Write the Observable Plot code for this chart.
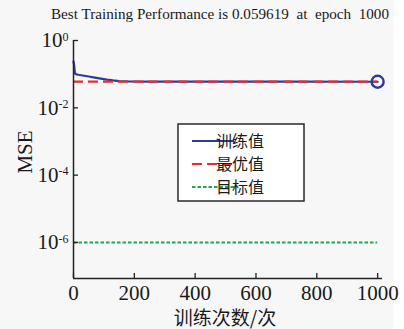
<!DOCTYPE html>
<html><head><meta charset="utf-8">
<script src="https://cdn.jsdelivr.net/npm/d3@7"></script>
<script src="https://cdn.jsdelivr.net/npm/@observablehq/plot@0.6"></script>
<style>
html,body{margin:0;padding:0;background:#fff;}
#chart{position:relative;width:404px;height:329px;background:linear-gradient(to right,#f7f7f7 0,#f7f7f7 394px,#ffffff 394px);}
#chart svg{display:block;}
</style></head><body><div id="chart"></div>
<script>
const titleText = "Best Training Performance is 0.059619  at  epoch  1000";
const epochs   = [0, 2, 4, 6, 10, 16, 30, 50, 70, 90, 110, 130, 150, 180, 250, 440, 700, 1000];
const trainMSE = [0.24, 0.19, 0.12, 0.102, 0.099, 0.096, 0.091, 0.085, 0.079, 0.074, 0.069, 0.065, 0.0625, 0.0612, 0.0604, 0.0599, 0.0597, 0.059619];
const bestMSE = 0.059619;
const bestEpoch = 1000;
const goalMSE = 1e-6;
const xTicks = [0, 200, 400, 600, 800, 1000];
const yTicks = [1, 1e-2, 1e-4, 1e-6];
const seriesNames = ["训练值", "最优值", "目标值"];
const xLabel = "训练次数/次";
const yLabel = "MSE";

const colors = ["#2c3c9c", "#ec2a2e", "#1ea84c"];
const dashes = [null, "10,5", "3.5,2"];
const serifFont = "'Liberation Serif'";
const cjkFont = "'Noto Sans CJK SC'";

const train = epochs.map((e, i) => ({epoch: e, mse: trainMSE[i]}));
const yMin = Math.pow(10, -7.07);

const plot = Plot.plot({
  width: 404, height: 329,
  marginLeft: 73, marginRight: 22, marginTop: 40, marginBottom: 51,
  style: {background: "transparent", color: "#1a1a1a", overflow: "visible"},
  x: {domain: [0, 1016]},
  y: {type: "log", domain: [yMin, 1]},
  marks: [
    Plot.ruleY([goalMSE], {x1: 0, x2: 1000, stroke: colors[2], strokeWidth: 2.2, strokeDasharray: dashes[2]}),
    Plot.line(train, {x: "epoch", y: "mse", stroke: colors[0], strokeWidth: 2.2}),
    Plot.ruleY([bestMSE], {x1: 0, x2: 1000, stroke: colors[1], strokeWidth: 2.2, strokeDasharray: dashes[1]}),
    Plot.dot([{epoch: bestEpoch, mse: bestMSE}], {x: "epoch", y: "mse", r: 6, stroke: colors[0], strokeWidth: 2.4, fill: "none"}),
    Plot.ruleY([yMin], {stroke: "#222", strokeWidth: 1.5}),
    Plot.ruleX([0], {stroke: "#222", strokeWidth: 1.5}),
    Plot.axisX({ticks: xTicks, tickSize: -5, tickPadding: 12, fontSize: 21, label: null, stroke: "#222", strokeWidth: 1.3, tickFormat: d => String(d)}),
    Plot.axisY({ticks: yTicks, tickSize: -5, tickPadding: 10, fontSize: 21, label: null, stroke: "#222", strokeWidth: 1.3, tickFormat: d => "10^" + Math.round(Math.log10(d))})
  ]
});
document.getElementById("chart").appendChild(plot);

const svg = d3.select(plot);
svg.attr("font-family", null);

// superscript exponents on y tick labels
svg.selectAll("g[aria-label='y-axis tick label'] text").each(function() {
  const t = d3.select(this);
  const s = t.text();
  if (s.indexOf("^") < 0) return;
  const [base, exp] = s.split("^");
  t.text(null);
  t.append("tspan").text(base);
  t.append("tspan").attr("dy", "-0.55em").attr("font-size", 12).text(exp);
});

// title
svg.append("text")
  .attr("x", 220).attr("y", 19)
  .attr("text-anchor", "middle")
  .attr("font-size", 14)
  .attr("fill", "#1a1a1a")
  .attr("textLength", 338).attr("lengthAdjust", "spacingAndGlyphs")
  .text(titleText);

// axis labels
svg.append("text").attr("class", "cjk")
  .attr("x", 225).attr("y", 325)
  .attr("text-anchor", "middle")
  .attr("font-size", 19).attr("fill", "#1a1a1a")
  .text(xLabel);
svg.append("text")
  .attr("transform", "translate(32,152) rotate(-90)")
  .attr("text-anchor", "middle")
  .attr("font-size", 21).attr("fill", "#1a1a1a")
  .text(yLabel);

// legend
const lg = svg.append("g");
lg.append("rect").attr("x", 178).attr("y", 124).attr("width", 126).attr("height", 77)
  .attr("fill", "#ffffff").attr("stroke", "#2a2a2a").attr("stroke-width", 1.5);
const rowY = [141, 164, 187];
seriesNames.forEach((name, i) => {
  lg.append("line").attr("x1", 192).attr("x2", 234).attr("y1", rowY[i]).attr("y2", rowY[i])
    .attr("stroke", colors[i]).attr("stroke-width", 2.2)
    .attr("stroke-dasharray", dashes[i]);
  lg.append("text").attr("class", "cjk").attr("x", 240).attr("y", rowY[i]).attr("dy", "0.36em")
    .attr("font-size", 16).attr("fill", "#1a1a1a")
    .text(name);
});

// apply fonts explicitly to every text
svg.selectAll("text").each(function() {
  const el = d3.select(this);
  const f = el.classed("cjk") ? cjkFont : serifFont;
  el.attr("font-family", f).style("font-family", f);
});
svg.selectAll("g").attr("font-family", null);
</script>
</body></html>
